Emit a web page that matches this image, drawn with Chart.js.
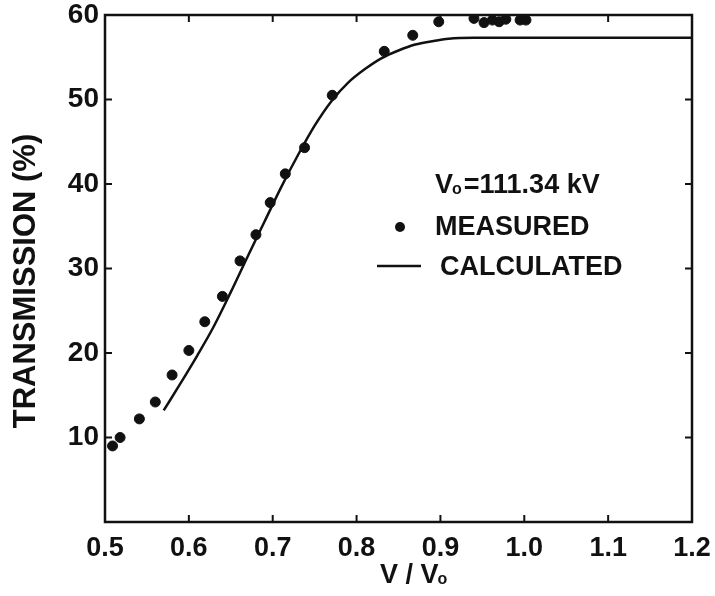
<!DOCTYPE html>
<html>
<head>
<meta charset="utf-8">
<script src="https://cdn.jsdelivr.net/npm/chart.js@4"></script>
<style>
  html, body { margin: 0; padding: 0; background: #fff; }
  #wrap { width: 715px; height: 596px; }
</style>
</head>
<body>
<div id="wrap"><canvas id="chart-transmission"></canvas></div>
<script>
// Data
const measuredX = [0.509, 0.518, 0.541, 0.560, 0.580, 0.600, 0.619, 0.640, 0.661, 0.680, 0.697, 0.715, 0.738, 0.771, 0.833, 0.867, 0.898, 0.940, 0.952, 0.962, 0.970, 0.978, 0.995, 1.002];
const measuredY = [9.0, 10.0, 12.2, 14.2, 17.4, 20.3, 23.7, 26.7, 30.9, 34.0, 37.8, 41.2, 44.3, 50.5, 55.7, 57.6, 59.2, 59.6, 59.1, 59.4, 59.2, 59.5, 59.4, 59.4];
const calcX = [0.57, 0.59, 0.61, 0.63, 0.65, 0.67, 0.69, 0.71, 0.73, 0.75, 0.77, 0.79, 0.81, 0.83, 0.85, 0.87, 0.89, 0.91, 0.94, 1.0, 1.1, 1.2];
const calcY = [13.2, 16.4, 19.7, 23.2, 27.2, 31.4, 35.5, 39.6, 43.4, 46.9, 49.8, 52.0, 53.6, 54.9, 55.8, 56.5, 56.9, 57.2, 57.3, 57.3, 57.3, 57.3];
const xTicks = [0.5, 0.6, 0.7, 0.8, 0.9, 1.0, 1.1, 1.2];
const yTicks = [10, 20, 30, 40, 50, 60];

const FONT = '"Liberation Sans", Arial, sans-serif';
const toPoints = (xs, ys) => xs.map((v, i) => ({x: v, y: ys[i]}));

// draws "V" with a small lowered "o"
function drawVo(ctx, x, y, size) {
  ctx.font = 'bold ' + size + 'px ' + FONT;
  ctx.fillText('V', x, y);
  const w = ctx.measureText('V').width;
  ctx.font = 'bold ' + Math.round(size * 0.6) + 'px ' + FONT;
  ctx.fillText('o', x + w - 1, y + size * 0.12);
  return w - 1 + ctx.measureText('o').width;
}

// frame, inward ticks, axis titles and the legend
const framePlugin = {
  id: 'frame',
  afterDraw(chart) {
    const {ctx, chartArea: a, scales: {x, y}} = chart;
    ctx.save();
    ctx.strokeStyle = '#111';
    ctx.fillStyle = '#111';
    ctx.lineWidth = 2.5;
    ctx.strokeRect(a.left, a.top, a.width, a.height);
    ctx.lineWidth = 2;
    ctx.beginPath();
    xTicks.forEach(v => {
      const px = x.getPixelForValue(v);
      ctx.moveTo(px, a.bottom); ctx.lineTo(px, a.bottom - 7);
      ctx.moveTo(px, a.top); ctx.lineTo(px, a.top + 7);
    });
    yTicks.forEach(v => {
      const py = y.getPixelForValue(v);
      ctx.moveTo(a.left, py); ctx.lineTo(a.left + 7, py);
      ctx.moveTo(a.right, py); ctx.lineTo(a.right - 7, py);
    });
    ctx.stroke();

    ctx.textBaseline = 'middle';
    ctx.textAlign = 'left';

    // y title
    ctx.save();
    ctx.translate(26, 281);
    ctx.rotate(-Math.PI / 2);
    ctx.textAlign = 'center';
    ctx.font = 'bold 31px ' + FONT;
    ctx.fillText('TRANSMISSION (%)', 0, 0);
    ctx.restore();

    // x title  V / Vo
    ctx.font = 'bold 27px ' + FONT;
    let tx = 380;
    ctx.fillText('V', tx, 576);
    tx += ctx.measureText('V ').width;
    ctx.fillText('/', tx, 576);
    tx += ctx.measureText('/ ').width;
    drawVo(ctx, tx, 576, 27);

    // legend block
    let lx = 435;
    lx += drawVo(ctx, lx, 186, 27);
    ctx.font = 'bold 27px ' + FONT;
    ctx.fillText('=111.34 kV', lx + 2, 186);
    ctx.fillText('MEASURED', 435, 228);
    ctx.fillText('CALCULATED', 440, 268);
    ctx.beginPath();
    ctx.arc(400, 227, 5, 0, Math.PI * 2);
    ctx.fill();
    ctx.lineWidth = 2.5;
    ctx.beginPath();
    ctx.moveTo(377, 266); ctx.lineTo(421, 266);
    ctx.stroke();
    ctx.restore();
  }
};

Chart.defaults.color = '#111';

new Chart(document.getElementById('chart-transmission'), {
  type: 'scatter',
  data: {
    datasets: [{
      label: 'MEASURED',
      data: toPoints(measuredX, measuredY),
      backgroundColor: '#111',
      borderColor: '#111',
      pointRadius: 5,
      showLine: false
    }, {
      label: 'CALCULATED',
      data: toPoints(calcX, calcY),
      borderColor: '#111',
      borderWidth: 2.5,
      pointRadius: 0,
      showLine: true,
      cubicInterpolationMode: 'monotone'
    }]
  },
  options: {
    responsive: true,
    maintainAspectRatio: false,
    animation: false,
    layout: {padding: {left: 0, right: 23, top: 15, bottom: 0}},
    plugins: {legend: {display: false}, tooltip: {enabled: false}},
    scales: {
      x: {
        type: 'linear',
        min: 0.5, max: 1.2,
        grid: {display: false, drawTicks: false},
        border: {display: false},
        ticks: {
          stepSize: 0.1,
          padding: 10,
          font: {family: FONT, size: 27, weight: 'bold'},
          callback: v => v.toFixed(1)
        },
        afterFit: s => { s.height = 74; s.paddingLeft = 0; s.paddingRight = 0; }
      },
      y: {
        min: 0, max: 60,
        grid: {display: false, drawTicks: false},
        border: {display: false},
        ticks: {
          stepSize: 10,
          padding: 6,
          font: {family: FONT, size: 28, weight: 'bold'},
          callback: v => v === 0 ? '' : v
        },
        afterFit: s => { s.width = 105; s.paddingTop = 0; s.paddingBottom = 0; }
      }
    }
  },
  plugins: [framePlugin]
});
</script>
</body>
</html>
